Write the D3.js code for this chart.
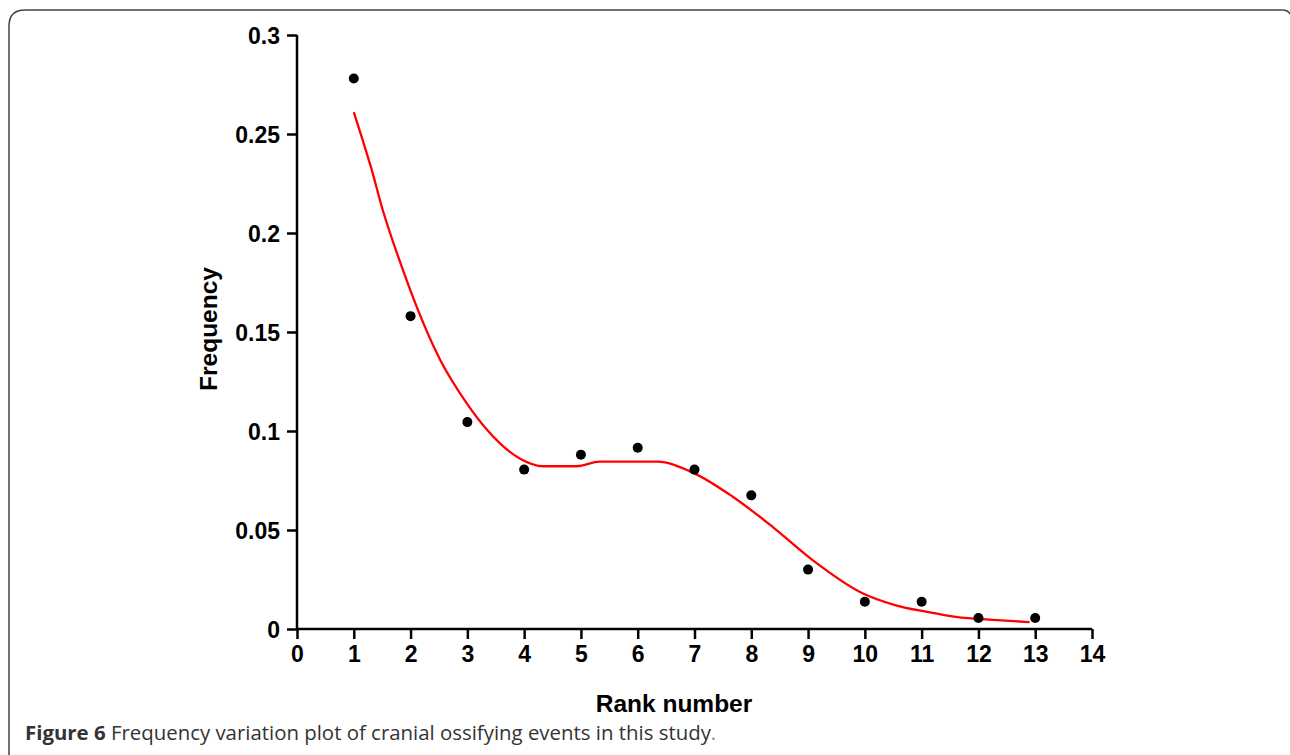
<!DOCTYPE html>
<html>
<head>
<meta charset="utf-8">
<script src="https://cdn.jsdelivr.net/npm/d3@7"></script>
<style>
  html, body { margin: 0; padding: 0; background: #fff; }
  svg { display: block; }
</style>
</head>
<body>
<svg id="chart" width="1290" height="755"></svg>
<script>
// observed frequencies per rank
const ranks = [1, 2, 3, 4, 5, 6, 7, 8, 9, 10, 11, 12, 13];
const frequency = [0.278, 0.158, 0.1045, 0.0805, 0.088, 0.0915, 0.0805, 0.0675, 0.0300, 0.0138, 0.0138, 0.0056, 0.0056];

// fitted curve
const fitRank = [1.0, 1.15, 1.3, 1.51, 1.87, 2.11, 2.52, 2.99, 3.35, 3.93, 4.33, 4.93, 5.33, 6.34, 6.97, 7.68, 8.38, 9.08, 9.95, 10.53, 11.1, 11.6, 12.33, 12.9];
const fitFreq = [0.261, 0.2475, 0.2335, 0.2116, 0.181, 0.1626, 0.136, 0.114, 0.1005, 0.086, 0.0822, 0.0822, 0.0845, 0.0845, 0.079, 0.0667, 0.0515, 0.0348, 0.0182, 0.0121, 0.0086, 0.0061, 0.0045, 0.0035];

const xTicks = d3.range(0, 15);
const yTicks = [0, 0.05, 0.1, 0.15, 0.2, 0.25, 0.3];

const svg = d3.select('#chart');

// rounded frame (right & bottom edges fall outside the picture)
svg.append('path')
    .attr('d', 'M9,756 L9,26 Q9,10 25,10 L1282,10 Q1288,10 1290,14')
    .attr('fill', 'none')
    .attr('stroke', '#444')
    .attr('stroke-width', 1.5);

const x = d3.scaleLinear().domain([0, 14]).range([297, 1092]);
const y = d3.scaleLinear().domain([0, 0.3]).range([629, 35]);

const tickFont = 'Liberation Sans, Arial, sans-serif';

const xAxis = svg.append('g')
    .attr('transform', 'translate(0,629)')
    .call(d3.axisBottom(x).tickValues(xTicks).tickSize(10).tickPadding(7).tickFormat(d3.format('d')));

const yAxis = svg.append('g')
    .attr('transform', 'translate(297,0)')
    .call(d3.axisLeft(y).tickValues(yTicks).tickSize(10).tickPadding(7).tickFormat(d => d === 0 ? '0' : `${+d.toFixed(2)}`));

[xAxis, yAxis].forEach(g => {
    g.select('.domain').attr('stroke', '#000').attr('stroke-width', 2.5);
    g.selectAll('.tick line').attr('stroke', '#000').attr('stroke-width', 2.5);
    g.selectAll('.tick text')
        .attr('fill', '#000')
        .style('font-family', tickFont)
        .style('font-weight', 'bold')
        .style('font-size', '23px');
});
// d3 draws outer ticks on the domain path; keep only the straight line
xAxis.select('.domain').attr('d', `M${x(0)},0H${x(14)}`);
yAxis.select('.domain').attr('d', `M0,${y(0)}V${y(0.3)}`);
yAxis.selectAll('.tick text').attr('dy', '0.36em');

svg.append('text')
    .attr('x', 674)
    .attr('y', 712)
    .attr('text-anchor', 'middle')
    .style('font-family', tickFont)
    .style('font-weight', 'bold')
    .style('font-size', '24.5px')
    .text('Rank number');

svg.append('text')
    .attr('transform', 'translate(217,329) rotate(-90)')
    .attr('text-anchor', 'middle')
    .style('font-family', tickFont)
    .style('font-weight', 'bold')
    .style('font-size', '24.5px')
    .text('Frequency');

// fitted curve
const fit = fitRank.map((r, i) => [r, fitFreq[i]]);
svg.append('path')
    .datum(fit)
    .attr('fill', 'none')
    .attr('stroke', '#ff0000')
    .attr('stroke-width', 2.3)
    .attr('d', d3.line().x(d => x(d[0])).y(d => y(d[1])).curve(d3.curveMonotoneX));

// observed points
svg.append('g')
    .selectAll('circle')
    .data(ranks)
    .join('circle')
    .attr('cx', d => x(d))
    .attr('cy', (d, i) => y(frequency[i]))
    .attr('r', 5)
    .attr('fill', '#000');

// caption
const caption = svg.append('text')
    .attr('x', 25)
    .attr('y', 740)
    .attr('fill', '#333')
    .style('font-family', '"Open Sans", sans-serif')
    .style('font-size', '20.4px');
caption.append('tspan').style('font-weight', 'bold').text('Figure 6');
caption.append('tspan').text(' Frequency variation plot of cranial ossifying events in this study');
caption.append('tspan').attr('fill', '#888').text('.');
</script>
</body>
</html>
